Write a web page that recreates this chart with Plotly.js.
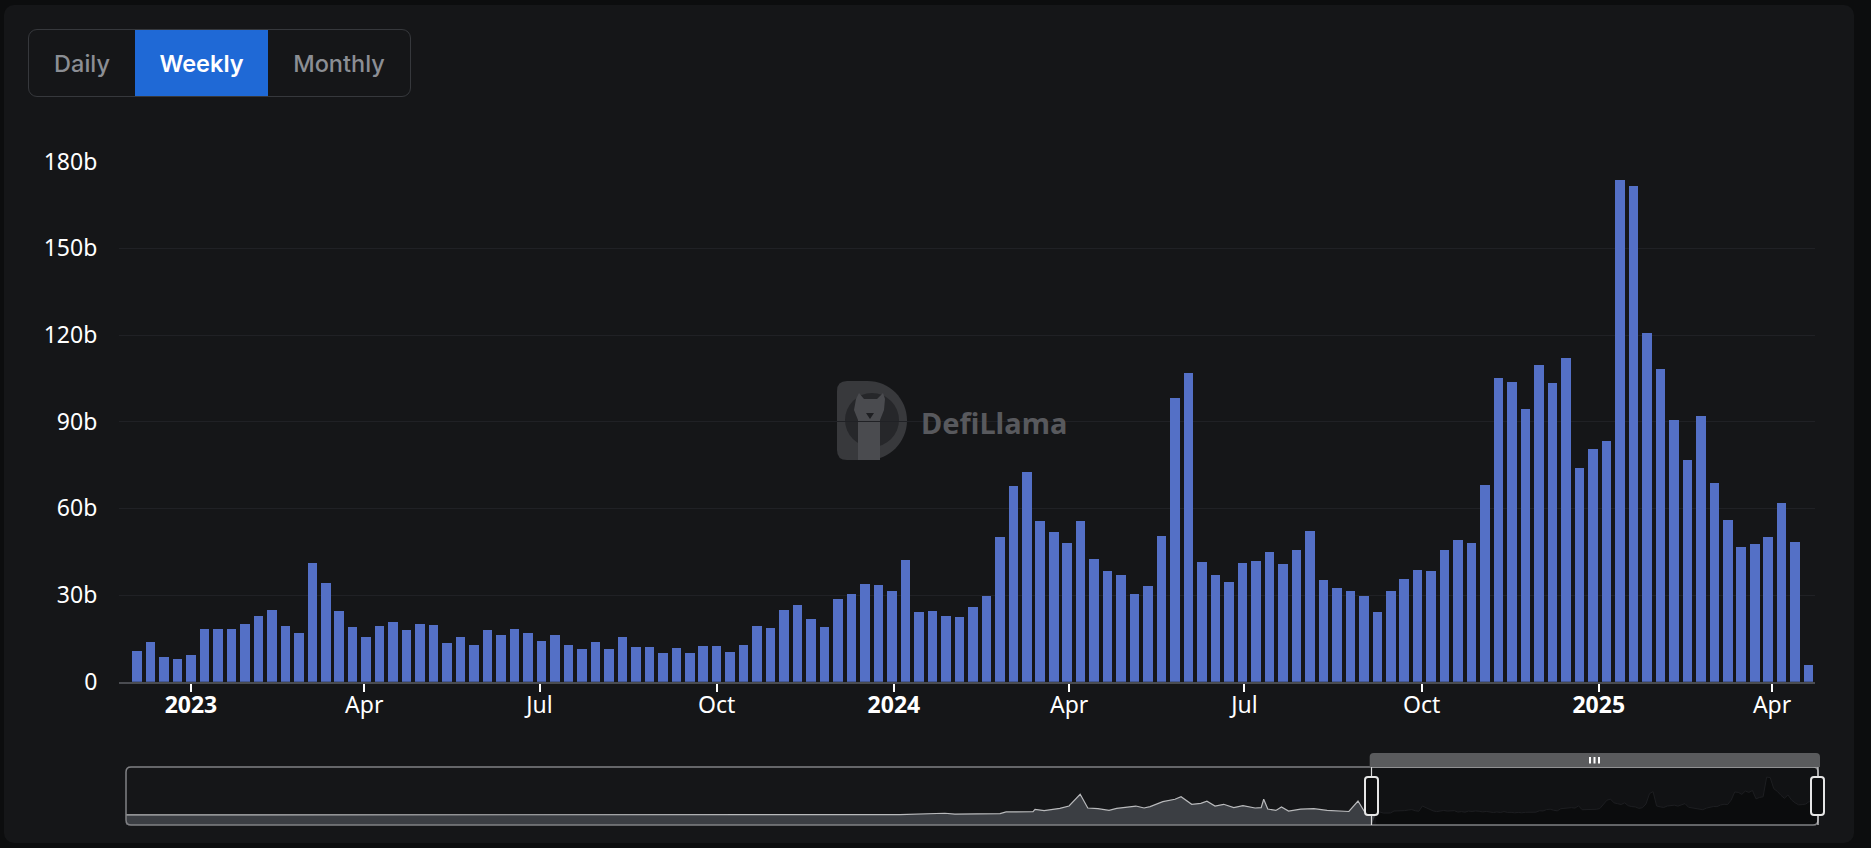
<!DOCTYPE html>
<html>
<head>
<meta charset="utf-8">
<script src="https://cdn.plot.ly/plotly-3.0.1.min.js"></script>
<style>
  html, body { margin:0; padding:0; background:#0c0d0e; width:1871px; height:848px; overflow:hidden; }
  #card { position:absolute; left:4px; top:5px; width:1850px; height:838px; background:#151618; border-radius:10px; }
  #chart { position:absolute; left:0; top:0; width:1871px; height:848px; }
  #btns { position:absolute; left:28px; top:29px; width:381px; height:66px; border:1.5px solid #36383c; border-radius:9px; display:flex; overflow:hidden; font-family:Inter, "Noto Sans", sans-serif; font-size:23.5px; z-index:5; }
  #btns div { display:flex; align-items:center; justify-content:center; color:#8b8e94; font-weight:500; }
  #btns .on { background:#1f69d6; color:#ffffff; font-weight:600; }
</style>
</head>
<body>
<div id="card"></div>
<div id="chart"></div>
<div id="btns">
  <div style="width:106px">Daily</div>
  <div class="on" style="width:133px">Weekly</div>
  <div style="flex:1">Monthly</div>
</div>
<script>
// ---------- DATA ----------
const firstWeek = '2022-12-04';
// weekly DEX volume in billions (USD)
const weeklyVolume = [
  10.6, 13.6, 8.7, 8.0, 9.1, 18.1, 18.1, 18.1, 19.9, 22.7,
  24.8, 19.3, 17.0, 41.0, 34.3, 24.5, 18.9, 15.4, 19.3, 20.7,
  18.0, 19.9, 19.7, 13.3, 15.6, 12.8, 17.9, 16.2, 18.4, 17.0,
  14.1, 16.3, 12.8, 11.3, 13.8, 11.4, 15.6, 11.9, 12.1, 9.8,
  11.8, 9.8, 12.3, 12.5, 10.3, 12.8, 19.3, 18.5, 24.8, 26.5,
  21.8, 18.9, 28.7, 30.3, 33.8, 33.6, 31.5, 42.1, 24.1, 24.6,
  22.8, 22.3, 26.0, 29.5, 50.2, 67.8, 72.6, 55.6, 51.8, 48.0,
  55.7, 42.5, 38.4, 36.9, 30.3, 33.2, 50.4, 98.1, 107.0, 41.5,
  37.0, 34.5, 41.1, 41.9, 45.0, 40.6, 45.5, 52.2, 35.3, 32.3,
  31.3, 29.5, 24.2, 31.4, 35.5, 38.8, 38.3, 45.7, 49.1, 47.9,
  68.2, 105.3, 103.8, 94.3, 109.8, 103.4, 112.1, 74.0, 80.6, 83.4,
  173.7, 171.5, 120.7, 108.4, 90.6, 76.7, 91.9, 68.8, 56.0, 46.6,
  47.5, 50.1, 61.9, 48.3, 5.8
];
const yTickVals = [0, 30, 60, 90, 120, 150, 180];
const yTickText = ['0', '30b', '60b', '90b', '120b', '150b', '180b'];
const xTickVals = ['2023-01-01','2023-04-01','2023-07-01','2023-10-01','2024-01-01','2024-04-01','2024-07-01','2024-10-01','2025-01-01','2025-04-01'];
const xTickText = ['<b>2023</b>','Apr','Jul','Oct','<b>2024</b>','Apr','Jul','Oct','<b>2025</b>','Apr'];
// navigator history (before the selected window)
const historyDates = ['2016-03-04','2018-09-25','2020-05-08','2020-08-05','2020-08-25','2020-11-22','2020-12-04','2021-01-26','2021-01-30','2021-02-17','2021-03-20','2021-04-07','2021-04-29','2021-05-14','2021-06-03','2021-06-25','2021-07-10','2021-08-17','2021-09-02','2021-09-14','2021-10-09','2021-11-02','2021-11-14','2021-12-05','2021-12-23','2022-01-04','2022-01-20','2022-02-06','2022-02-26','2022-03-16','2022-04-09','2022-04-21','2022-04-26','2022-05-04','2022-05-20','2022-05-31','2022-06-14','2022-07-08','2022-08-03','2022-08-29','2022-10-11','2022-10-29','2022-11-10','2022-12-04'];
const historyValues = [0.3, 0.5, 1.5, 8, 4, 6, 14, 15, 26, 20, 30, 41, 95, 32, 29, 21, 30, 41, 32, 38, 61, 72, 84, 49, 53, 63, 41, 49, 34, 43, 32, 34, 72, 27, 21, 37, 18, 27, 29, 21, 16, 64, 18, 10.6];
const watermarkText = 'DefiLlama';

// ---------- derived ----------
const weekDates = [];
{
  const t0 = Date.UTC(2022, 11, 4);
  for (let i = 0; i < weeklyVolume.length; i++) {
    weekDates.push(new Date(t0 + i * 7 * 86400000).toISOString().slice(0, 10));
  }
}

// ---------- geometry helpers (pixel -> paper) ----------
const W = 1871, H = 848;
const px = x => x / W;
const py = y => 1 - y / H;
function rrect(x0, y0, x1, y1, r) {
  return 'M' + px(x0 + r) + ',' + py(y0) + ' L' + px(x1 - r) + ',' + py(y0) +
    ' Q' + px(x1) + ',' + py(y0) + ' ' + px(x1) + ',' + py(y0 + r) +
    ' L' + px(x1) + ',' + py(y1 - r) +
    ' Q' + px(x1) + ',' + py(y1) + ' ' + px(x1 - r) + ',' + py(y1) +
    ' L' + px(x0 + r) + ',' + py(y1) +
    ' Q' + px(x0) + ',' + py(y1) + ' ' + px(x0) + ',' + py(y1 - r) +
    ' L' + px(x0) + ',' + py(y0 + r) +
    ' Q' + px(x0) + ',' + py(y0) + ' ' + px(x0 + r) + ',' + py(y0) + ' Z';
}
function topRounded(x0, y0, x1, y1, r) {
  return 'M' + px(x0) + ',' + py(y1) + ' L' + px(x0) + ',' + py(y0 + r) +
    ' Q' + px(x0) + ',' + py(y0) + ' ' + px(x0 + r) + ',' + py(y0) +
    ' L' + px(x1 - r) + ',' + py(y0) +
    ' Q' + px(x1) + ',' + py(y0) + ' ' + px(x1) + ',' + py(y0 + r) +
    ' L' + px(x1) + ',' + py(y1) + ' Z';
}
function dShape(x0, y0, x1, y1, r) {
  const h = y1 - y0, R = h / 2, cx = x1 - R, cy = y0 + R, k = 0.5523 * R;
  return 'M' + px(x0 + r) + ',' + py(y0) + ' L' + px(cx) + ',' + py(y0) +
    ' C' + px(cx + k) + ',' + py(y0) + ' ' + px(x1) + ',' + py(cy - k) + ' ' + px(x1) + ',' + py(cy) +
    ' C' + px(x1) + ',' + py(cy + k) + ' ' + px(cx + k) + ',' + py(y1) + ' ' + px(cx) + ',' + py(y1) +
    ' L' + px(x0 + r) + ',' + py(y1) +
    ' Q' + px(x0) + ',' + py(y1) + ' ' + px(x0) + ',' + py(y1 - r) +
    ' L' + px(x0) + ',' + py(y0 + r) +
    ' Q' + px(x0) + ',' + py(y0) + ' ' + px(x0 + r) + ',' + py(y0) + ' Z';
}
function poly(pts) {
  return 'M' + pts.map(p => px(p[0]) + ',' + py(p[1])).join(' L') + ' Z';
}

const navStart = '2016-03-04', navEnd = '2025-04-23 07:00';
const selStart = '2022-11-24 19:00';

const traces = [
  {
    type: 'bar', x: weekDates, y: weeklyVolume, xaxis: 'x', yaxis: 'y',
    width: 4.95 * 86400000,
    marker: { color: '#5470c6', line: { width: 0 } },
    hoverinfo: 'skip'
  },
  // navigator baseline (history)
  { type: 'scatter', mode: 'lines', x: [navStart, selStart], y: [-46, -46], xaxis: 'x2', yaxis: 'y2',
    line: { width: 0, color: 'rgba(0,0,0,0)' }, hoverinfo: 'skip', showlegend: false },
  { type: 'scatter', mode: 'lines', x: historyDates, y: historyValues, xaxis: 'x2', yaxis: 'y2',
    fill: 'tonexty', fillcolor: '#3b3e43', line: { width: 1.2, color: '#b9babc' }, hoverinfo: 'skip', showlegend: false },
  // navigator baseline (selected)
  { type: 'scatter', mode: 'lines', x: [weekDates[0], weekDates[weekDates.length - 1]], y: [-46, -46], xaxis: 'x2', yaxis: 'y2',
    line: { width: 0, color: 'rgba(0,0,0,0)' }, hoverinfo: 'skip', showlegend: false },
  { type: 'scatter', mode: 'lines', x: weekDates, y: weeklyVolume, xaxis: 'x2', yaxis: 'y2',
    fill: 'tonexty', fillcolor: '#0b0c0d', line: { width: 1, color: '#1d1e21' }, hoverinfo: 'skip', showlegend: false }
];

const navTop = 767, navBot = 825, selX0 = 1371.5, selX1 = 1818;
const shapes = [
  // watermark logo
  { type: 'path', xref: 'paper', yref: 'paper', layer: 'below', path: dShape(837, 381, 907, 460, 10), fillcolor: '#38393c', line: { width: 0 } },
  { type: 'circle', xref: 'paper', yref: 'paper', layer: 'below', x0: px(845), x1: px(899), y0: py(447), y1: py(393), fillcolor: '#26272a', line: { width: 0 } },
  { type: 'path', xref: 'paper', yref: 'paper', layer: 'below',
    path: poly([[856, 399], [859, 393], [864, 399], [877, 399], [883, 393], [885, 399], [884, 410], [880, 420], [880, 460], [858, 460], [858, 420], [854, 410]]),
    fillcolor: '#4a4b4f', line: { width: 0 } },
  { type: 'path', xref: 'paper', yref: 'paper', layer: 'below',
    path: poly([[866, 413], [874, 413], [870, 419]]), fillcolor: '#1e1f22', line: { width: 0 } },
  // navigator window background
  { type: 'rect', xref: 'paper', yref: 'paper', layer: 'below', x0: px(selX0), x1: px(selX1), y0: py(navBot), y1: py(navTop),
    fillcolor: '#111214', line: { width: 0 } },
  // navigator outer box
  { type: 'path', xref: 'paper', yref: 'paper', layer: 'above', path: rrect(126, navTop, 1818, navBot, 5),
    fillcolor: 'rgba(0,0,0,0)', line: { color: '#808184', width: 1.5 } },
  // window edges
  { type: 'line', xref: 'paper', yref: 'paper', x0: px(selX0), x1: px(selX0), y0: py(navTop), y1: py(navBot), line: { color: '#d9d9d9', width: 1.2 } },
  { type: 'line', xref: 'paper', yref: 'paper', x0: px(selX1), x1: px(selX1), y0: py(navTop), y1: py(navBot), line: { color: '#d9d9d9', width: 1.2 } },
  { type: 'line', xref: 'paper', yref: 'paper', x0: px(selX0), x1: px(selX1), y0: py(navTop), y1: py(navTop), line: { color: '#bdbdbd', width: 1.2 } },
  // top drag bar
  { type: 'path', xref: 'paper', yref: 'paper', path: topRounded(1369.7, 753, 1820, 767, 4), fillcolor: '#5a5b5d', line: { width: 0 } },
  { type: 'rect', xref: 'paper', yref: 'paper', x0: px(1589), x1: px(1591), y0: py(763.5), y1: py(757), fillcolor: '#ffffff', line: { width: 0 } },
  { type: 'rect', xref: 'paper', yref: 'paper', x0: px(1593.5), x1: px(1595.5), y0: py(763.5), y1: py(757), fillcolor: '#ffffff', line: { width: 0 } },
  { type: 'rect', xref: 'paper', yref: 'paper', x0: px(1598), x1: px(1600), y0: py(763.5), y1: py(757), fillcolor: '#ffffff', line: { width: 0 } },
  // handles
  { type: 'path', xref: 'paper', yref: 'paper', path: rrect(1365, 777, 1378, 815, 3), fillcolor: '#0d0e0f', line: { color: '#e6e6e6', width: 2 } },
  { type: 'path', xref: 'paper', yref: 'paper', path: rrect(1811, 777, 1824, 815, 3), fillcolor: '#0d0e0f', line: { color: '#e6e6e6', width: 2 } }
];

const layout = {
  width: W, height: H,
  margin: { l: 0, r: 0, t: 0, b: 0 },
  paper_bgcolor: 'rgba(0,0,0,0)',
  plot_bgcolor: 'rgba(0,0,0,0)',
  showlegend: false,
  bargap: 0,
  font: { family: '"Noto Sans", "Open Sans", sans-serif', color: '#ffffff', size: 23 },
  xaxis: {
    type: 'date', domain: [px(119.3), px(1815)], anchor: 'y',
    range: [selStart, '2025-04-23 07:00'],
    tickmode: 'array', tickvals: xTickVals, ticktext: xTickText,
    ticks: 'outside', ticklen: 8, tickwidth: 2, tickcolor: '#ffffff',
    ticklabelstandoff: -6,
    showline: true, linecolor: '#4a4c51', linewidth: 2,
    showgrid: false, zeroline: false,
    tickfont: { size: 23, color: '#ffffff' }, fixedrange: true
  },
  yaxis: {
    domain: [py(681.7), py(161.7)], anchor: 'x',
    range: [0, 180],
    tickmode: 'array', tickvals: yTickVals, ticktext: yTickText,
    showgrid: true, gridcolor: '#202125', gridwidth: 1,
    zeroline: false, showline: false, ticks: '',
    ticklabelstandoff: 21,
    tickfont: { size: 23, color: '#ffffff' }, fixedrange: true
  },
  xaxis2: {
    type: 'date', domain: [px(126), px(1818)], anchor: 'y2',
    range: [navStart, navEnd], visible: false, fixedrange: true
  },
  yaxis2: {
    domain: [py(825), py(767)], anchor: 'x2',
    range: [-46, 220], visible: false, fixedrange: true
  },
  shapes: shapes,
  annotations: [
    { xref: 'paper', yref: 'paper', x: px(919), y: py(422), xanchor: 'left', yanchor: 'middle',
      text: '<b>' + watermarkText + '</b>', showarrow: false,
      font: { family: '"Noto Sans", sans-serif', size: 29, color: '#58595d' } }
  ]
};

Plotly.newPlot('chart', traces, layout, { displayModeBar: false, staticPlot: true });
</script>
</body>
</html>
